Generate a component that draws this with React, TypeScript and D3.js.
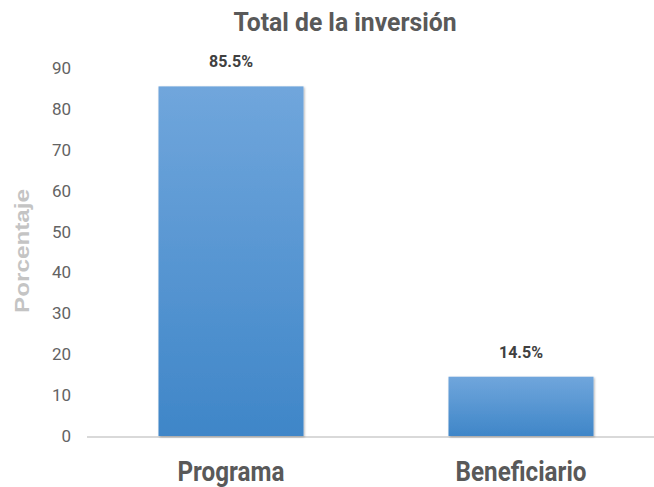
import React from 'react';
import * as d3 from 'd3';

const categories = ['Programa', 'Beneficiario'];
const values = [85.5, 14.5];
const valueLabels = ['85.5%', '14.5%'];
const yTicks = [0, 10, 20, 30, 40, 50, 60, 70, 80, 90];
const categoryWidths = [107, 131];

const W = 654;
const H = 487;
const narrow = '"Liberation Sans Narrow", "Arial Narrow", Roboto, sans-serif';

export default function App() {
  const x = d3.scaleBand<string>()
    .domain(categories)
    .range([86, 666])
    .paddingInner(0.5)
    .paddingOuter(0.25);

  const y = d3.scaleLinear()
    .domain([0, 90])
    .range([436, 68]);

  return (
    <svg width={W} height={H} style={{ position: 'absolute', left: 0, top: 0, background: '#fff' }}>
      <defs>
        <linearGradient id="bar-grad" x1="0%" y1="0%" x2="0%" y2="100%">
          <stop offset="0%" stopColor="#70a6dc" />
          <stop offset="100%" stopColor="#3f86c8" />
        </linearGradient>
        <filter id="shadow" x="-10%" y="-10%" width="120%" height="120%">
          <feDropShadow dx="1" dy="1" stdDeviation="1.2" floodColor="#000" floodOpacity="0.3" />
        </filter>
      </defs>

      <text x={345} y={31} textAnchor="middle" fontFamily={narrow} fontWeight="bold"
        fontSize={25} fill="#595959" textLength={223} lengthAdjust="spacingAndGlyphs">Total de la inversión</text>

      {yTicks.map(t => (
        <text key={t} x={71} y={y(t) + 6} textAnchor="end" fontFamily={narrow}
          fontSize={17} fill="#636363">{t}</text>
      ))}

      <text transform={`translate(29,${251}) rotate(-90)`} textAnchor="middle"
        fontFamily='"Liberation Sans", Arial, sans-serif' fontWeight="bold" fontSize={20}
        textLength={124} lengthAdjust="spacingAndGlyphs" fill="#c4c4c4">Porcentaje</text>

      <line x1={87} x2={W} y1={y(0) + 1} y2={y(0) + 1} stroke="#d9d9d9" strokeWidth={2} />

      {categories.map((c, i) => (
        <g key={c}>
          <rect x={x(c)} y={y(values[i])} width={x.bandwidth()} height={y(0) - y(values[i])}
            fill="url(#bar-grad)" filter="url(#shadow)" />
          <text x={(x(c) ?? 0) + x.bandwidth() / 2} y={y(values[i]) - 19} textAnchor="middle"
            fontFamily={narrow} fontWeight="bold" fontSize={16} fill="#404040">{valueLabels[i]}</text>
          <text x={(x(c) ?? 0) + x.bandwidth() / 2} y={481} textAnchor="middle"
            fontFamily={narrow} fontWeight="bold" fontSize={27} fill="#595959"
            textLength={categoryWidths[i]} lengthAdjust="spacingAndGlyphs">{c}</text>
        </g>
      ))}
    </svg>
  );
}
